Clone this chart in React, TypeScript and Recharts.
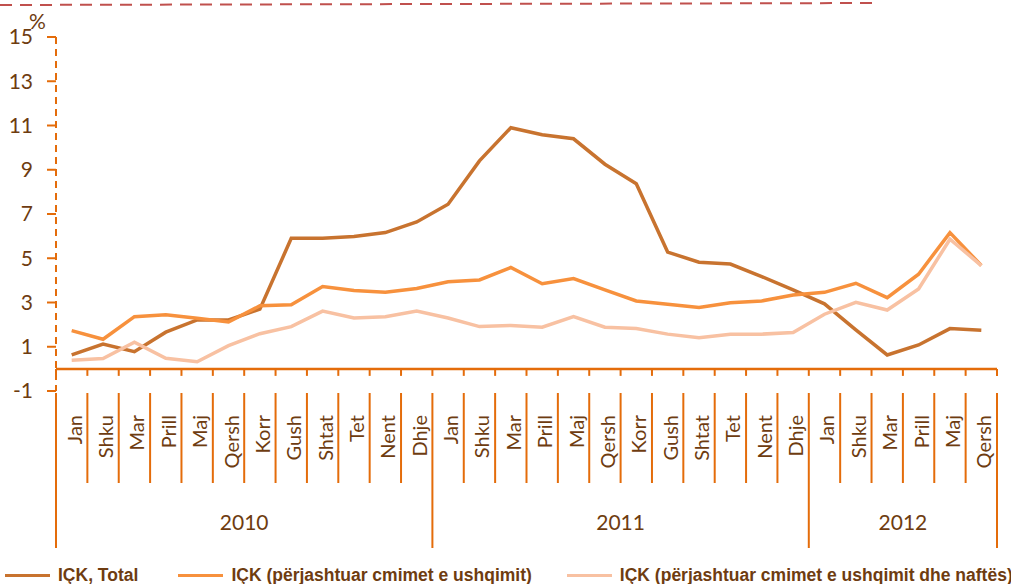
import React from "react";
import { LineChart, Line, XAxis, YAxis, ReferenceLine } from "recharts";

const monthNames = ["Jan", "Shku", "Mar", "Prill", "Maj", "Qersh", "Korr", "Gush", "Shtat", "Tet", "Nent", "Dhje"];
const years = ["2010", "2011", "2012"];
const monthsPerYear = [12, 12, 6];

const cpiTotal = [
  0.63, 1.12, 0.78, 1.66, 2.21, 2.21, 2.7, 5.9, 5.9, 5.98, 6.16, 6.64,
  7.44, 9.4, 10.9, 10.58, 10.4, 9.25, 8.37, 5.28, 4.82, 4.74, 4.17, 3.57,
  2.94, 1.76, 0.63, 1.08, 1.82, 1.75,
];
const cpiExFood = [
  1.73, 1.34, 2.36, 2.45, 2.29, 2.12, 2.85, 2.9, 3.72, 3.54, 3.46, 3.63,
  3.94, 4.02, 4.58, 3.85, 4.08, 3.57, 3.07, 2.92, 2.77, 2.99, 3.07, 3.34,
  3.46, 3.87, 3.22, 4.28, 6.16, 4.67,
];
const cpiExFoodFuel = [
  0.39, 0.47, 1.21, 0.48, 0.32, 1.05, 1.59, 1.91, 2.61, 2.3, 2.36, 2.61,
  2.3, 1.91, 1.96, 1.88, 2.36, 1.88, 1.82, 1.57, 1.41, 1.57, 1.57, 1.64,
  2.47, 3.01, 2.66, 3.61, 5.86, 4.67,
];
const yTicks = [-1, 1, 3, 5, 7, 9, 11, 13, 15];

const seriesNames = [
  "IÇK, Total",
  "IÇK (përjashtuar cmimet e ushqimit)",
  "IÇK (përjashtuar cmimet e ushqimit dhe naftës)",
];
const seriesColors = ["#c8732f", "#f7913d", "#f8c1a2"];

const AXIS = "#e46c0a";
const TEXT = "#6e3c10";
const W = 1011;
const H = 584;
const M = { top: 37, right: 14, left: 0, bottom: 43 };
const Y_W = 56;
const X_H = 150;
const PLOT_W = W - Y_W - M.right;
const PLOT_H = H - M.top - M.bottom - X_H;
const BAND = PLOT_W / 30;
const FONT = "Lato, 'Open Sans', sans-serif";

// periods: one row per month, with a unique key and the year it belongs to
const periods: { key: string; month: string; year: string }[] = [];
years.forEach((yr, yi) => {
  for (let m = 0; m < monthsPerYear[yi]; m++) {
    periods.push({ key: `${monthNames[m]}-${yr}`, month: monthNames[m], year: yr });
  }
});

const data = periods.map((p, i) => ({
  key: p.key,
  total: cpiTotal[i],
  exFood: cpiExFood[i],
  exFoodFuel: cpiExFoodFuel[i],
}));

const yearStarts: number[] = [];
{
  let s = 0;
  monthsPerYear.forEach((n) => {
    yearStarts.push(s);
    s += n;
  });
}

function MonthTick(props: any) {
  const { x, y, index } = props;
  const p = periods[index];
  if (!p) return null;
  const left = x - BAND / 2;
  const right = x + BAND / 2;
  const zeroY = y - PLOT_H / 16;
  const isYearStart = yearStarts.includes(index);
  const isLast = index === periods.length - 1;

  // year label centred on its months
  let yearLabel: React.ReactNode = null;
  const yi = years.indexOf(p.year);
  const start = yearStarts[yi];
  const mid = start + (monthsPerYear[yi] - 1) / 2;
  if (index === Math.floor(mid)) {
    const cx = x + (mid - index) * BAND;
    yearLabel = (
      <text x={cx} y={y + 139} textAnchor="middle" fill={TEXT} fontSize={21} fontFamily={FONT}>
        {p.year}
      </text>
    );
  }

  return (
    <g>
      <line x1={left} y1={zeroY} x2={left} y2={zeroY + 7} stroke={AXIS} strokeWidth={2} />
      {isLast && <line x1={right} y1={zeroY} x2={right} y2={zeroY + 7} stroke={AXIS} strokeWidth={2} />}
      <line x1={left} y1={y + 2} x2={left} y2={isYearStart ? y + 157 : y + 92} stroke={AXIS} strokeWidth={2} />
      {isLast && <line x1={right} y1={y + 2} x2={right} y2={y + 157} stroke={AXIS} strokeWidth={2} />}
      <text
        x={x + 2}
        y={y + 24}
        transform={`rotate(-90 ${x + 2} ${y + 24})`}
        textAnchor="end"
        dominantBaseline="central"
        fill={TEXT}
        fontSize={20}
        fontFamily={FONT}
      >
        {p.month}
      </text>
      {yearLabel}
    </g>
  );
}

export default function App() {
  const keys = ["total", "exFood", "exFoodFuel"];
  return (
    <div style={{ position: "absolute", left: 0, top: 0, width: W, height: H, background: "#fff" }}>
      <svg width={900} height={10} style={{ position: "absolute", left: 0, top: 0 }}>
        <line x1={0} y1={5} x2={880} y2={3} stroke="#c0504d" strokeWidth={2} strokeDasharray="12 8" />
      </svg>
      <div style={{ position: "absolute", left: 29, top: 8, color: TEXT, fontSize: 21, fontFamily: FONT }}>%</div>
      <LineChart width={W} height={H} data={data} margin={M}>
        <XAxis
          dataKey="key"
          height={X_H}
          interval={0}
          padding={{ left: BAND / 2, right: BAND / 2 }}
          axisLine={false}
          tickLine={false}
          tickSize={0}
          tickMargin={0}
          tick={<MonthTick />}
        />
        <YAxis
          width={Y_W}
          domain={[-1, 15]}
          ticks={yTicks}
          interval={0}
          axisLine={{ stroke: AXIS, strokeWidth: 2, strokeDasharray: "7 5" }}
          tickLine={{ stroke: AXIS, strokeWidth: 2 }}
          tickSize={9}
          tickMargin={14}
          tick={{ fill: TEXT, fontSize: 21, fontFamily: FONT }}
        />
        <ReferenceLine y={0} stroke={AXIS} strokeWidth={2.5} />
        {keys.map((k, i) => (
          <Line
            key={k}
            type="linear"
            dataKey={k}
            name={seriesNames[i]}
            stroke={seriesColors[i]}
            strokeWidth={3.5}
            dot={false}
            isAnimationActive={false}
          />
        ))}
      </LineChart>
      <div
        style={{
          position: "absolute",
          left: 0,
          top: 565,
          display: "flex",
          alignItems: "center",
          fontFamily: "'Liberation Sans Narrow', 'Arial Narrow', sans-serif",
          fontWeight: "bold",
          fontSize: 17.5,
          color: TEXT,
          whiteSpace: "nowrap",
        }}
      >
        {seriesNames.map((n, i) => (
          <div key={n} style={{ display: "flex", alignItems: "center", marginLeft: i === 0 ? 5 : i === 1 ? 40 : 35 }}>
            <span style={{ display: "inline-block", width: 45, height: 3, background: seriesColors[i], marginRight: 8 }} />
            <span>{n}</span>
          </div>
        ))}
      </div>
    </div>
  );
}
